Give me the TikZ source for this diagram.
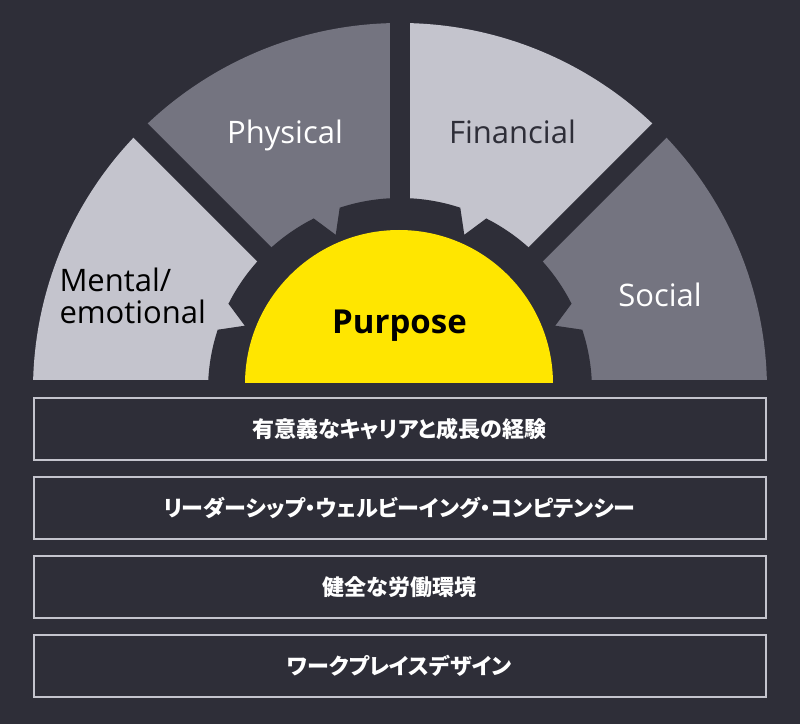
\documentclass[tikz,border=0pt]{standalone}
\usepackage{fontspec}
\setmainfont{Open Sans}
\newfontfamily\jpfont[RawFeature=+palt]{Noto Sans CJK JP}
\definecolor{bgc}{HTML}{2E2E38}
\definecolor{lightseg}{HTML}{C4C4CD}
\definecolor{darkseg}{HTML}{747480}
\definecolor{ylw}{HTML}{FFE600}
\definecolor{boxc}{HTML}{C4C4CD}
\tikzset{
  seglabel/.style={inner sep=0pt, font=\fontsize{31}{36}\selectfont},
  purplabel/.style={inner sep=0pt, text=black, font=\bfseries\fontsize{33}{38}\selectfont},
  bx/.style={draw=boxc, line width=2pt, minimum width=732pt, minimum height=62pt,
    inner sep=0pt, text=white, font=\jpfont\bfseries\fontsize{22}{26}\selectfont}
}
\begin{document}
\begin{tikzpicture}[x=1pt,y=1pt]
\useasboundingbox (0,0) rectangle (800,724);
\fill[bgc] (0,0) rectangle (800,724);
\coordinate (C) at (400,334);
% segments
\begin{scope}
  \clip (0,344.5) rectangle (800,724);
  \fill[lightseg] (C) -- ++(135:367pt) arc[start angle=135,end angle=185,radius=367pt] -- cycle;
  \fill[darkseg] (C) -- ++(90:367pt) arc[start angle=90,end angle=135,radius=367pt] -- cycle;
  \fill[lightseg] (C) -- ++(45:367pt) arc[start angle=45,end angle=90,radius=367pt] -- cycle;
  \fill[darkseg] (C) -- ++(-5:367pt) arc[start angle=-5,end angle=45,radius=367pt] -- cycle;
\end{scope}
% dividing bands
\foreach \a in {45,90,135} \draw[bgc, line width=20pt] (C) -- ++(\a:390pt);
% gear
\begin{scope}[shift={(400,334)}]
  \fill[bgc] (-22.5:168pt)
    \foreach \a in {0,45,...,315} {
      -- (\a-22.5:168pt) -- (\a-18.3:192pt)
      arc[start angle=\a-18.3, end angle=\a+18.3, radius=192pt]
      -- (\a+22.5:168pt)
    } -- cycle;
\end{scope}
% purpose half disc
\begin{scope}
  \clip (0,341.5) rectangle (800,724);
  \fill[ylw] (399,340) circle[radius=154pt];
\end{scope}
% labels
\node[seglabel, text=white, anchor=base] (phys) at (285,580) {Physical};
\node[seglabel, text=bgc, anchor=base] (fin) at (512.5,580) {Financial};
\node[seglabel, text=white, anchor=base] (soc) at (660,417.3) {Social};
\node[seglabel, text=black, anchor=base west] (mentA) at (59.3,432.3) {Mental/};
\node[seglabel, text=black, anchor=base west] (mentB) at (59.3,400) {emotional};
\node[purplabel, anchor=base] (purp) at (399.5,390.7) {Purpose};
% boxes
\node[bx] (b1) at (399.5,295.3) {有意義なキャリアと成長の経験};
\node[bx] (b2) at (399.5,216.3) {リーダーシップ・ウェルビーイング・コンピテンシー};
\node[bx] (b3) at (399.5,137.3) {健全な労働環境};
\node[bx] (b4) at (399.5,58.3) {ワークプレイスデザイン};
\end{tikzpicture}
\end{document}
